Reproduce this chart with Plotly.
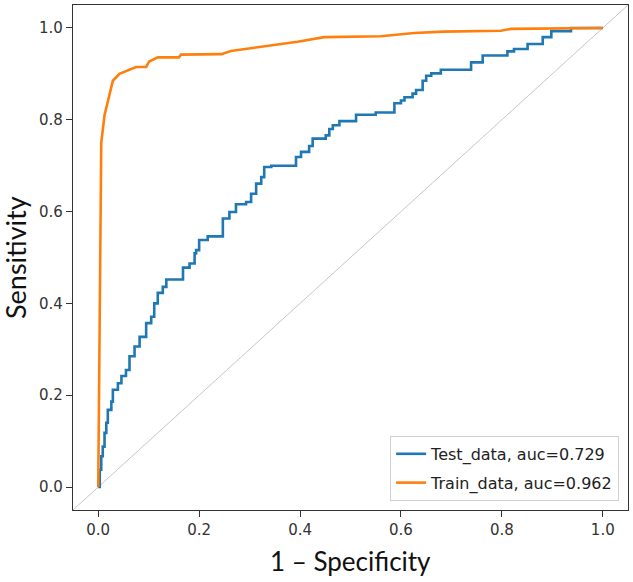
import plotly.graph_objects as go

# ROC data
test_fpr = [0, 0.003, 0.006, 0.009, 0.0125, 0.016, 0.019, 0.026, 0.029, 0.039,
            0.046, 0.055, 0.062, 0.072, 0.082, 0.095, 0.105, 0.111, 0.118, 0.128,
            0.135, 0.158, 0.168, 0.181, 0.191, 0.194, 0.2, 0.217, 0.237, 0.247,
            0.26, 0.273, 0.293, 0.303, 0.313, 0.323, 0.329, 0.343, 0.379, 0.392,
            0.402, 0.418, 0.425, 0.451, 0.458, 0.465, 0.478, 0.511, 0.55, 0.58,
            0.587, 0.6, 0.607, 0.623, 0.63, 0.643, 0.65, 0.66, 0.679, 0.735,
            0.739, 0.762, 0.808, 0.811, 0.824, 0.848, 0.851, 0.877, 0.881, 0.897,
            0.898, 0.937, 0.937, 1.0]
test_tpr = [0, 0.038, 0.067, 0.088, 0.118, 0.14, 0.168, 0.186, 0.212, 0.226,
            0.242, 0.255, 0.285, 0.306, 0.327, 0.357, 0.371, 0.40, 0.423, 0.436,
            0.452, 0.452, 0.478, 0.487, 0.509, 0.516, 0.538, 0.546, 0.546, 0.585,
            0.599, 0.616, 0.621, 0.639, 0.661, 0.675, 0.697, 0.70, 0.70, 0.719,
            0.73, 0.743, 0.759, 0.766, 0.78, 0.788, 0.797, 0.811, 0.816, 0.816,
            0.836, 0.842, 0.849, 0.857, 0.865, 0.885, 0.896, 0.901, 0.909, 0.909,
            0.925, 0.94, 0.94, 0.949, 0.954, 0.954, 0.965, 0.965, 0.98, 0.98,
            0.993, 0.993, 1.0, 1.0]

train_fpr = [0, 0.002, 0.006, 0.0125, 0.029, 0.042, 0.059, 0.075, 0.095, 0.101,
             0.118, 0.16, 0.164, 0.244, 0.263, 0.316, 0.368, 0.395, 0.448, 0.56,
             0.626, 0.685, 0.798, 0.818, 1.0]
train_tpr = [0, 0.30, 0.75, 0.81, 0.885, 0.90, 0.907, 0.915, 0.915, 0.927,
             0.936, 0.936, 0.942, 0.943, 0.95, 0.958, 0.966, 0.97, 0.98, 0.982,
             0.989, 0.992, 0.994, 0.998, 1.0]

test_name = "Test_data, auc=0.729"
train_name = "Train_data, auc=0.962"
diag_x = [-0.05, 1.05]
diag_y = [-0.05, 1.05]
tick_vals = [0.0, 0.2, 0.4, 0.6, 0.8, 1.0]
tick_text = ["0.0", "0.2", "0.4", "0.6", "0.8", "1.0"]

fig = go.Figure()
fig.add_trace(go.Scatter(x=diag_x, y=diag_y, mode="lines",
                         line=dict(color="#b8b8b8", width=0.8),
                         showlegend=False, hoverinfo="skip"))
fig.add_trace(go.Scatter(x=test_fpr, y=test_tpr, mode="lines", name=test_name,
                         legendgroup="a",
                         line=dict(color="#1f77b4", width=2.6, shape="hv")))
fig.add_trace(go.Scatter(x=train_fpr, y=train_tpr, mode="lines", name=train_name,
                         legendgroup="b",
                         line=dict(color="#ff7f0e", width=2.6)))

axis_common = dict(
    range=[-0.05, 1.05], showgrid=False, zeroline=False, automargin=False,
    showline=True, linecolor="#333333", linewidth=1.3, mirror=True,
    ticks="outside", ticklen=6, tickwidth=1.2, tickcolor="#333333",
    tickvals=tick_vals, ticktext=tick_text,
    tickfont=dict(family="DejaVu Sans", size=15, color="#333333"),
)
fig.update_xaxes(**axis_common)
fig.update_yaxes(**axis_common)

fig.update_layout(
    width=633, height=582,
    margin=dict(l=73, r=5, t=5, b=72),
    paper_bgcolor="white", plot_bgcolor="white",
    legend=dict(x=0.984, y=0.018, xanchor="right", yanchor="bottom",
                bgcolor="white", bordercolor="#d0d0d0", borderwidth=1,
                font=dict(family="DejaVu Sans", size=16, color="#222222"),
                tracegroupgap=5, itemwidth=30),
    annotations=[
        dict(text="1 – Specificity", xref="paper", yref="paper", x=0.5, y=-0.101,
             xanchor="center", yanchor="middle", showarrow=False,
             font=dict(family="Lato", size=26, color="#111111")),
        dict(text="Sensitivity", xref="paper", yref="paper", x=-0.1045, y=0.499,
             xanchor="center", yanchor="middle", showarrow=False, textangle=-90,
             font=dict(family="Lato", size=27, color="#111111")),
    ],
)

fig.write_html("out.html", config={"displayModeBar": False},
               post_script="document.body.style.margin='0';document.body.style.padding='0';")
